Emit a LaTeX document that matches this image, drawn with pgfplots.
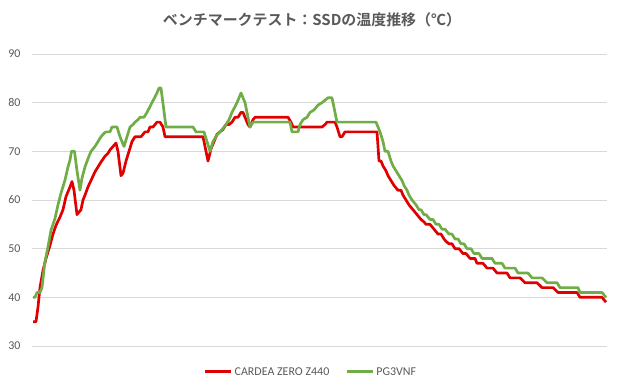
\documentclass[border=0pt]{standalone}
\usepackage{fontspec}
\setmainfont{Carlito}
\newfontfamily\cjk{Noto Sans CJK JP}[BoldFont={Noto Sans CJK JP Bold}]
\usepackage{pgfplots}
\pgfplotsset{compat=1.18}
\definecolor{cred}{RGB}{224,0,0}
\definecolor{cgreen}{HTML}{70AD47}
\definecolor{txt}{HTML}{595959}
\definecolor{grd}{HTML}{D9D9D9}
\begin{document}
\begin{tikzpicture}
\useasboundingbox (-32bp,-39bp) rectangle (588bp,346bp);
\node[font=\cjk\bfseries\fontsize{15}{17}\selectfont, text=txt] at (280bp,326bp) {ベンチマークテスト：SSDの温度推移（℃）};
\begin{axis}[at={(0,0)}, anchor=south west, scale only axis,
  width=575bp, height=292bp,
  xmin=32, xmax=607, ymin=30, ymax=90,
  ytick={30,40,...,90}, xtick=\empty,
  axis line style={draw=none},
  ymajorgrids, grid style={grd, line width=0.8bp},
  major tick length=0pt,
  tick label style={font=\fontsize{12}{14}\selectfont, text=txt},
  /pgf/number format/assume math mode=true,
  yticklabel style={xshift=-8bp},
  legend style={at={(0.485,-0.089)}, anchor=center, draw=none, fill=none,
    legend columns=2, font=\fontsize{12}{14}\selectfont, text=txt,
    /tikz/every even column/.append style={column sep=14bp}},
  legend image code/.code={\draw[#1, line width=3bp] (0bp,0bp) -- (26bp,0bp);},
  clip=false]
\addplot[cred, line width=2.7bp, line join=round, mark=none] coordinates {
(33,35)(36,35)(38,38)(40,42)(43,45.5)(46,48)(50,50.7)(53,53)(56,54.8)(60,56.5)(63,58)(66,60.7)(70,62.7)(72,63.8)(74,62)(77,57)(79,57.5)(81,58)(83,60)(85,61)(88,62.7)(91,64)(95,65.8)(98,66.8)(101,67.8)(105,69)(108,69.6)(110,70.3)(113,71)(116,71.7)(118,70)(121,65)(123,65.5)(126,68)(129,70)(132,72)(135,73)(141,73)(143,73.5)(145,74)(148,74)(150,75)(153,75)(155,75.5)(157,76)(160,76)(163,75)(165,73)(203,73)(206,70)(208,68)(211,70.5)(214,72)(217,73.5)(220,74)(223,74.5)(226,75.5)(229,75.5)(232,76)(235,77)(238,77)(241,78)(243,78)(245,77)(248,75.5)(250,75)(253,76.5)(255,77)(288,77)(291,76)(293,75)(322,75)(325,75.5)(327,76)(335,76)(337,75)(340,73)(342,73)(345,74)(377,74)(379,68)(381,68)(383,67)(386,66)(388,65)(391,64)(394,63)(398,62)(401,62)(403,61)(406,60)(409,59)(411,58.5)(413,58)(417,57)(421,56)(424,55.5)(426,55)(430,55)(434,54)(436,53.5)(438,53)(441,53)(444,52)(446,51.5)(449,51)(452,51)(455,50)(459,50)(463,49)(466,49)(470,48)(475,48)(477,47)(483,47)(487,46)(493,46)(497,45)(507,45)(510,44)(520,44)(525,43)(537,43)(542,42)(553,42)(558,41)(577,41)(580,40)(602,40)(606,39)
};
\addlegendentry{CARDEA ZERO Z440}
\addplot[cgreen, line width=2.7bp, line join=round, mark=none] coordinates {
(33,40)(35,40)(37,41)(40,41)(42,42)(44.7,47)(48,50.4)(51,53.8)(55,56.2)(58,59)(61,61.4)(65,64.1)(68,66.8)(70,68.2)(71.5,70)(74.5,70)(77,66)(80,62)(82,64.5)(85,66.8)(88,68.5)(91,70)(95,71)(98,72)(101,73)(104,73.7)(106,74)(110,74)(112,75)(117,75)(120,73)(124,71)(127,73)(130,75)(133,75.5)(135,76)(138,76.5)(140,77)(144,77)(147,78)(152,80)(157,82)(159,83)(161,83)(166,75)(193,75)(196,74)(204,74)(207,72)(210,70)(213,72)(216.7,73.3)(221.7,74.4)(226,75.5)(229,76.5)(232,78)(237,80)(241,82)(245,80)(250,75)(253,76)(290,76)(292,74)(298,74)(300,75.5)(303,76.5)(307,77)(310,78)(314,78.5)(318,79.5)(322,80)(325,80.5)(328,81)(332,81)(334,79)(337,76)(376,76)(378,75)(380,74)(383,72)(385,70)(388,70)(391,68)(393,67)(396,66)(399,65)(402,64)(404,63)(407,62)(409,61)(412,60)(416,59)(419,58)(421,58)(424,57)(426,57)(430,56)(433,56)(436,55)(439,55)(442,54)(445,54)(449,53)(452,53)(455,52)(458,52)(461,51)(464,51)(467,50)(471,50)(474,49)(479,49)(482,48)(492,48)(495,47)(502,47)(505,46)(515,46)(518,45)(528,45)(532,44)(542,44)(547,43)(557,43)(560,42)(578,42)(580,41)(602,41)(606,40)
};
\addlegendentry{PG3VNF}
\end{axis}
\end{tikzpicture}
\end{document}
